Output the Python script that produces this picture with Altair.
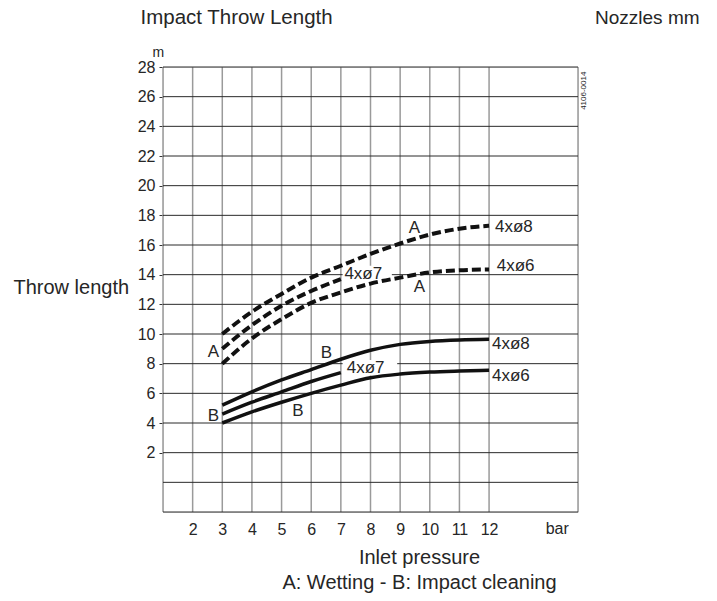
import altair as alt
import pandas as pd

# ---- data ----
pressure_full = [3, 4, 5, 6, 7, 8, 9, 10, 11, 12]
pressure_short = [3, 4, 5, 6, 7]

wet_8 = [10.0, 11.5, 12.7, 13.8, 14.6, 15.4, 16.1, 16.7, 17.1, 17.3]
wet_7 = [9.0, 10.6, 11.9, 12.9, 13.7]
wet_6 = [8.0, 9.7, 11.0, 12.1, 12.8, 13.4, 13.8, 14.15, 14.3, 14.35]

imp_8 = [5.2, 6.1, 6.9, 7.6, 8.3, 8.9, 9.3, 9.5, 9.6, 9.65]
imp_7 = [4.6, 5.4, 6.1, 6.8, 7.4]
imp_6 = [4.0, 4.75, 5.4, 6.0, 6.55, 7.05, 7.3, 7.43, 7.5, 7.55]

x_ticks = [2, 3, 4, 5, 6, 7, 8, 9, 10, 11, 12]
y_ticks = [2, 4, 6, 8, 10, 12, 14, 16, 18, 20, 22, 24, 26, 28]
v_grid = [1, 2, 3, 4, 5, 6, 7, 8, 9, 10, 11, 12, 15]
h_grid = [-2, 0, 2, 4, 6, 8, 10, 12, 14, 16, 18, 20, 22, 24, 26, 28]

# curve annotations
lbl_text = ["A", "B", "A", "A", "B", "B", "4xø7", "4xø7", "4xø8", "4xø6", "4xø8", "4xø6"]
lbl_x = [2.7, 2.7, 9.48, 9.65, 6.51, 5.55, 7.12, 7.2, 12.2, 12.26, 12.1, 12.1]
lbl_y = [8.76, 4.5, 17.16, 13.18, 8.73, 4.78, 14.05, 7.72, 17.23, 14.6, 9.33, 7.18]
lbl_align = ["center"] * 6 + ["left"] * 6

# white boxes behind the two inner "4xø7" labels
box_x = [7.06, 7.06]
box_x2 = [8.72, 8.9]
box_y = [13.5, 7.2]
box_y2 = [14.6, 8.25]

rows = []
for name, xs_, ys_ in [("A8", pressure_full, wet_8), ("A7", pressure_short, wet_7),
                       ("A6", pressure_full, wet_6)]:
    rows += [{"series": name, "kind": "A", "p": x, "t": y} for x, y in zip(xs_, ys_)]
for name, xs_, ys_ in [("B8", pressure_full, imp_8), ("B7", pressure_short, imp_7),
                       ("B6", pressure_full, imp_6)]:
    rows += [{"series": name, "kind": "B", "p": x, "t": y} for x, y in zip(xs_, ys_)]
curves = pd.DataFrame(rows)

labels = pd.DataFrame({"text": lbl_text, "x": lbl_x, "y": lbl_y, "align": lbl_align})
boxes = pd.DataFrame({"x": box_x, "x2": box_x2, "y": box_y, "y2": box_y2})

FONT = "Liberation Sans"
TXT = "#262626"

xs = alt.Scale(domain=[1, 15], nice=False, zero=False)
ys = alt.Scale(domain=[-2, 28], nice=False, zero=False)

axX = alt.Axis(
    values=x_ticks, ticks=False, domain=False, grid=False, labelPadding=9,
    labelFontSize=16, labelColor=TXT, labelFont=FONT, labelOverlap=False,
    title=["Inlet pressure", "A: Wetting - B: Impact cleaning"],
    titleFont=FONT, titleFontSize=20, titleFontWeight="normal", titleColor=TXT,
    titleAlign="center", titleBaseline="alphabetic", titleX=256, titleY=51,
    titleLineHeight=25)
axY = alt.Axis(
    values=y_ticks, tickSize=4, tickColor="#333", domain=False, grid=False,
    labelPadding=4, labelFontSize=16, labelColor=TXT, labelFont=FONT,
    labelOverlap=False,
    title="Throw length", titleFont=FONT, titleFontSize=20,
    titleFontWeight="normal", titleColor=TXT, titleAngle=0, titleAlign="left",
    titleBaseline="middle", titleX=-150, titleY=220)


def px(field):
    return alt.X(field, scale=xs, axis=axX)


def py(field):
    return alt.Y(field, scale=ys, axis=axY)


vgrid = alt.Chart(pd.DataFrame({"v": v_grid})).mark_rule(
    color="#9a9a9a", strokeWidth=1.5).encode(x=px("v:Q"))
hgrid = alt.Chart(pd.DataFrame({"h": h_grid})).mark_rule(
    color="#2a2a2a", strokeWidth=1).encode(y=py("h:Q"))

box = alt.Chart(boxes).mark_rect(color="white").encode(
    x=px("x:Q"), x2="x2:Q", y=py("y:Q"), y2="y2:Q")

dashed = alt.Chart(curves[curves["kind"] == "A"]).mark_line(
    color="#111", strokeWidth=4, strokeDash=[9, 4], interpolate="monotone").encode(
    x=px("p:Q"), y=py("t:Q"), detail="series:N")
solid = alt.Chart(curves[curves["kind"] == "B"]).mark_line(
    color="#111", strokeWidth=3.5, interpolate="monotone").encode(
    x=px("p:Q"), y=py("t:Q"), detail="series:N")

txt_center = alt.Chart(labels[labels["align"] == "center"]).mark_text(
    font=FONT, fontSize=17, color=TXT, align="center", baseline="middle").encode(
    x=px("x:Q"), y=py("y:Q"), text="text:N")
txt_left = alt.Chart(labels[labels["align"] == "left"]).mark_text(
    font=FONT, fontSize=17, color=TXT, align="left", baseline="middle").encode(
    x=px("x:Q"), y=py("y:Q"), text="text:N")

# outer annotations (placed in data units relative to the plot)
outer = pd.DataFrame({
    "text": ["Impact Throw Length", "Nozzles mm", "m", "bar"],
    "x": [0.24, 19.1, 0.84, 14.3],
    "y": [30.9, 30.9, 28.95, -2.6],
    "align": ["left", "right", "center", "center"],
})
outer_l = alt.Chart(outer[outer["align"] == "left"]).mark_text(
    font=FONT, fontSize=20.5, color=TXT, align="left", baseline="alphabetic").encode(
    x=px("x:Q"), y=py("y:Q"), text="text:N")
outer_r = alt.Chart(outer[outer["align"] == "right"]).mark_text(
    font=FONT, fontSize=19, color=TXT, align="right", baseline="alphabetic").encode(
    x=px("x:Q"), y=py("y:Q"), text="text:N")
outer_m = alt.Chart(outer[outer["text"] == "m"]).mark_text(
    font=FONT, fontSize=14, color=TXT, align="center", baseline="middle").encode(
    x=px("x:Q"), y=py("y:Q"), text="text:N")
outer_bar = alt.Chart(outer[outer["text"] == "bar"]).mark_text(
    font=FONT, fontSize=16, color=TXT, align="center", baseline="top").encode(
    x=px("x:Q"), y=py("y:Q"), text="text:N")
code = alt.Chart(pd.DataFrame({"text": ["4106-0014"], "x": [15.2], "y": [26.4]})).mark_text(
    font=FONT, fontSize=8, color=TXT, angle=270, align="center", baseline="middle").encode(
    x=px("x:Q"), y=py("y:Q"), text="text:N")

chart = alt.layer(
    vgrid, hgrid, box, dashed, solid, txt_center, txt_left,
    outer_l, outer_r, outer_m, outer_bar, code
).properties(
    width=415, height=445,
    autosize=alt.AutoSizeParams(type="none"),
    padding={"left": 155, "top": 59, "right": 131, "bottom": 81},
).configure_view(stroke=None).configure(background="white")

chart.save("out.html", embed_options={"renderer": "svg", "actions": False})
